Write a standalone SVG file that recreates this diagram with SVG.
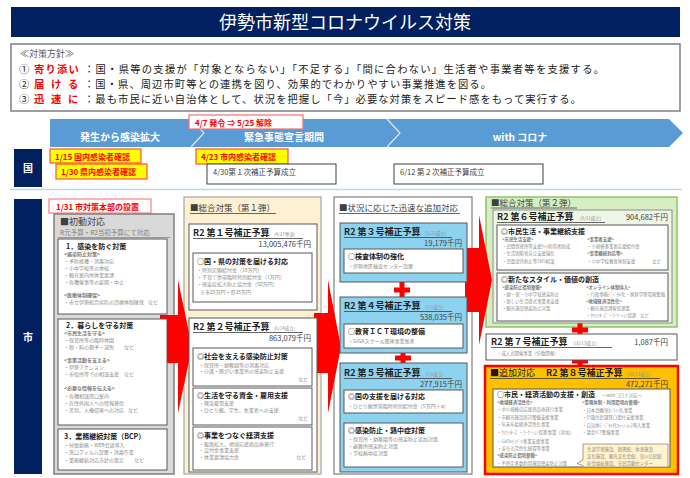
<svg xmlns="http://www.w3.org/2000/svg" width="690" height="478" viewBox="0 0 690 478">
<defs>
<style>
text{font-family:"Noto Sans CJK JP","Noto Sans",sans-serif;}
.w{fill:#fff}
.g{fill:#8c8c8c;font-size:5px}
.g4{fill:#8c8c8c;font-size:4.4px}
.gb{fill:#7a7a7a;font-size:5px;font-weight:bold}
.gb4{fill:#7a7a7a;font-size:4.4px;font-weight:bold}
.h{fill:#1f1f1f;font-size:9px;font-weight:bold}
.dt{fill:#8c8c8c;font-size:4.5px}
.amt{fill:#404040;font-size:7.5px;text-anchor:end}
.ib{fill:#fff;stroke:#595959;stroke-width:1}
.st{fill:#1a1a1a;font-size:7px;font-weight:bold}
.ct{fill:#404040;font-size:8.5px}
.ul{stroke:#404040;stroke-width:0.8}
.rd{fill:#ff0000}
.yb{fill:#ffff00;stroke:#ff4d4d;stroke-width:1.2}
.yt{fill:#ff0000;font-size:8px;font-weight:bold}
.sb{fill:#8dd3f0;stroke:#595959;stroke-width:1}
.wb{fill:#fff;stroke:#404040;stroke-width:1}
.pt{fill:#1a1a1a;font-size:10.3px}
.pr{fill:#ff0000;font-size:10.3px;font-weight:bold}
.nv{fill:#002060}
.tl{font-size:10px;font-weight:bold;fill:#fff;text-anchor:middle}
</style>
<g id="plus"><rect x="-8" y="-2.5" width="16" height="5" fill="#ff0000"/><rect x="-2.5" y="-8" width="5" height="16" fill="#ff0000"/></g>
</defs>
<rect width="690" height="478" fill="#fff"/>

<g id="title"><rect x="11" y="7" width="669" height="30" class="nv"/><text x="345" y="29" text-anchor="middle" font-size="18" class="w">伊勢市新型コロナウイルス対策</text></g>

<g id="policy">
<rect x="11" y="44" width="669" height="67" fill="#fff" stroke="#7f7f7f" stroke-width="1.5"/>
<text x="20" y="57" font-size="9" fill="#595959">≪対策方針≫</text>
<text x="19" y="72.5" class="pt">①</text><text x="34 45.5 57 68.5" y="72.5" class="pr">寄り添い</text><text x="84" y="72.5" class="pt" textLength="520" lengthAdjust="spacing">：国・県等の支援が「対象とならない」「不足する」「間に合わない」生活者や事業者等を支援する。</text>
<text x="19" y="87.5" class="pt">②</text><text x="34 51 68" y="87.5" class="pr">届ける</text><text x="84" y="87.5" class="pt" textLength="407" lengthAdjust="spacing">：国・県、周辺市町等との連携を図り、効果的でわかりやすい事業推進を図る。</text>
<text x="19" y="102.5" class="pt">③</text><text x="34 51 68" y="102.5" class="pr">迅速に</text><text x="84" y="102.5" class="pt" textLength="497" lengthAdjust="spacing">：最も市民に近い自治体として、状況を把握し「今」必要な対策をスピード感をもって実行する。</text>
</g>

<g id="timeline">
<polygon points="50,119 669,119 683,133 669,147 50,147" fill="#5b9bd5"/>
<polyline points="191,119 204,133 191,147" fill="none" stroke="#dbe8f5" stroke-width="1.2"/>
<polyline points="387,119 400,133 387,147" fill="none" stroke="#dbe8f5" stroke-width="1.2"/>
<text x="120" y="141" class="tl">発生から感染拡大</text>
<text x="284" y="141" class="tl">緊急事態宣言期間</text>
<text x="520" y="141" class="tl">with コロナ</text>
</g>
<g id="emergency"><rect x="189" y="115" width="114" height="14" fill="#fff" stroke="#ff6b6b" stroke-width="1.2"/><text x="195" y="125.5" class="yt" font-size="8.5">4/7 発令 ⇒ 5/25 解除</text></g>

<g id="kuni"><rect x="14" y="149" width="28" height="38" class="nv"/><text x="28" y="172" text-anchor="middle" font-size="10" font-weight="bold" class="w">国</text></g>
<g id="e0115"><rect x="50" y="149" width="91" height="14" class="yb"/><text x="55" y="159.5" class="yt">1/15 国内感染者確認</text></g>
<g id="e0130"><rect x="56" y="164" width="91" height="15" class="yb"/><text x="61" y="175" class="yt">1/30 県内感染者確認</text></g>
<g id="e0423"><rect x="196" y="149" width="92" height="15" class="yb"/><text x="201" y="160" class="yt">4/23 市内感染者確認</text></g>
<g id="e0430"><rect x="207" y="164" width="129" height="20" class="wb"/><text x="213" y="175" font-size="7.5" fill="#404040">4/30第１次補正予算成立</text></g>
<g id="e0612"><rect x="394" y="164" width="149" height="20" class="wb"/><text x="400" y="175" font-size="7.5" fill="#404040">6/12 第２次補正予算成立</text></g>
<line x1="10" y1="189.5" x2="682" y2="189.5" stroke="#bdd7ee" stroke-width="1.5"/>

<g id="shi"><rect x="14" y="199" width="28" height="275" class="nv"/><text x="28" y="341" text-anchor="middle" font-size="10" font-weight="bold" class="w">市</text></g>
<g id="e0131"><rect x="49" y="199" width="102" height="14" fill="#fff" stroke="#ff7c80" stroke-width="1.2"/><text x="56" y="209.5" class="yt" font-size="8.5">1/31 市対策本部の設置</text></g>

<!-- column containers -->
<g id="col1">
<rect x="54" y="214" width="120" height="260" fill="#d9d9d9" stroke="#7f7f7f" stroke-width="1.5"/>
<text x="60" y="225" font-size="9" fill="#404040">■初動対応</text>
<text x="60" y="235" font-size="6.5" fill="#7f7f7f">R元予算・R2当初予算にて対応</text>
<line x1="58" y1="237.5" x2="170" y2="237.5" stroke="#8c8c8c" stroke-width="0.8"/>
</g>
<g id="col2">
<rect x="184" y="197" width="137" height="277" fill="#fdf0d3" stroke="#a6a6a6" stroke-width="1.2"/>
<text x="190" y="211" class="ct">■総合対策（第１弾）</text>
<line x1="190" y1="213.5" x2="276" y2="213.5" class="ul"/>
</g>
<g id="col3">
<rect x="334" y="197" width="138" height="277" fill="#fff" stroke="#7f7f7f" stroke-width="1.2"/>
<text x="339" y="211" class="ct">■状況に応じた迅速な追加対応</text>
<line x1="339" y1="213.5" x2="460" y2="213.5" class="ul"/>
</g>
<g id="col4">
<rect x="486" y="197" width="191" height="130" fill="#d6eec4" stroke="#8fc46a" stroke-width="1.5"/>
<text x="491" y="206" class="ct">■総合対策（第２弾）</text>
<line x1="491" y1="208" x2="577" y2="208" class="ul"/>
</g>

<!-- connectors -->
<g id="connectors">
<polygon class="rd" points="160,315 178,315 178,280 192,347 178,413 178,363 160,363"/>
<polygon class="rd" points="314,313 328,313 328,280 341,347 328,413 328,373 314,373"/>
<polygon class="rd" points="465,248 479,248 479,215 492,280 479,345 479,312 465,312"/>
<use href="#plus" x="402" y="290"/>
<use href="#plus" x="403" y="358"/>
<use href="#plus" x="580" y="330"/>
<use href="#plus" x="580" y="361"/>
</g>

<!-- column 1 boxes -->
<g id="c1-b1">
<rect x="58" y="239" width="109" height="75" class="ib"/>
<text x="66" y="249" class="st" font-size="7.5">1．感染を防ぐ対策</text>
<text x="64" y="256" class="gb">&lt;感染防止対策&gt;</text>
<text x="64" y="263" class="g">・予防接種・消毒対応</text>
<text x="64" y="270" class="g">・小中学校等の休校</text>
<text x="64" y="277" class="g">・観光案内所休業要請</text>
<text x="64" y="284" class="g">・各種催事等の延期・中止</text>
<text x="64" y="297" class="gb">&lt;医療体制確保&gt;</text>
<text x="64" y="304" class="g">・市立伊勢総合病院の診療体制確保</text>
<text x="148" y="304" class="g">など</text>
</g>
<g id="c1-b2">
<rect x="58" y="319" width="109" height="106" class="ib"/>
<text x="66" y="328" class="st" font-size="7.5">2．暮らしを守る対策</text>
<text x="64" y="335" class="gb">&lt;市民生活を守る&gt;</text>
<text x="64" y="342" class="g">・保育所等の臨時休園</text>
<text x="64" y="349" class="g">・税・料の猶予・減免</text><text x="124" y="349" class="g">など</text>
<text x="64" y="362" class="gb">&lt;事業活動を支える&gt;</text>
<text x="64" y="369" class="g">・伊勢アクション</text>
<text x="64" y="376" class="g">・市役所等での相談支援</text><text x="124" y="376" class="g">など</text>
<text x="64" y="390" class="gb">&lt;必要な情報を伝える&gt;</text>
<text x="64" y="398" class="g">・各種相談窓口案内</text>
<text x="64" y="405" class="g">・在住外国人への情報発信</text>
<text x="64" y="412" class="g">・差別、人権侵害への対応</text><text x="128" y="412" class="g">など</text>
</g>
<g id="c1-b3">
<rect x="58" y="429" width="109" height="41" class="ib"/>
<text x="64" y="439" class="st" font-size="7.5">3．業務継続対策（BCP）</text>
<text x="64" y="447" class="g">・分散勤務・WEB会議導入</text>
<text x="64" y="454" class="g">・窓口フィルム設置・消毒作業</text>
<text x="64" y="462" class="g">・業務継続対応方針の策定</text><text x="134" y="462" class="g">など</text>
</g>

<!-- column 2 -->
<g id="r2-1">
<rect x="189" y="224" width="128" height="86" class="ib"/>
<text x="193" y="236" class="h">R2 第１号補正予算</text><text x="274" y="236" class="dt">(4/27専決)</text>
<line x1="193" y1="238.5" x2="303" y2="238.5" class="ul"/>
<text x="311" y="247" class="amt">13,005,476千円</text>
<rect x="193" y="253" width="119" height="49" class="ib"/>
<text x="197" y="264" class="st">○国・県の対策を届ける対応</text>
<text x="197" y="272" class="g">・特別定額給付金（10万円）</text>
<text x="197" y="279" class="g">・子育て世帯臨時特別給付金（1万円）</text>
<text x="197" y="286" class="g">・感染症拡大防止協力金（50万円）</text>
<text x="200" y="294" class="g">※市25万円＋県25万円</text>
</g>
<g id="r2-2">
<rect x="189" y="318" width="128" height="154" class="ib"/>
<text x="193" y="330" class="h">R2 第２号補正予算</text><text x="274" y="330" class="dt">(6/14成立)</text>
<line x1="193" y1="332.5" x2="303" y2="332.5" class="ul"/>
<text x="311" y="341" class="amt">863,079千円</text>
<rect x="193" y="348" width="119" height="38" class="ib"/>
<text x="197" y="359" class="st">◎社会を支える感染防止対策</text>
<text x="199" y="367" class="g">・保育所・幼稚園等の消毒対応</text>
<text x="199" y="373" class="g">・介護・障がい事業所の感染防止支援</text>
<text x="298" y="381" class="g">など</text>
<rect x="193" y="388" width="119" height="37" class="ib"/>
<text x="197" y="398" class="st">◎生活を守る資金・雇用支援</text>
<text x="199" y="405" class="g">・緊急雇用支援</text>
<text x="199" y="412" class="g">・ひとり親、学生、失業者への支援</text>
<text x="298" y="420" class="g">など</text>
<rect x="193" y="427" width="119" height="43" class="ib"/>
<text x="197" y="438" class="st">◎事業をつなぐ経済支援</text>
<text x="199" y="446" class="g">・販路拡大、地域応援商品券発行</text>
<text x="199" y="452" class="g">・交付金事業支援</text>
<text x="199" y="459" class="g">・休業要請協力金</text><text x="296" y="459" class="g">など</text>
</g>

<!-- column 3 -->
<g id="r2-3">
<rect x="340" y="223" width="127" height="59" class="sb"/>
<text x="344" y="235" class="h">R2 第３号補正予算</text><text x="425" y="235" class="dt">(5/22成立)</text>
<line x1="344" y1="237.5" x2="452" y2="237.5" class="ul"/>
<text x="462" y="246" class="amt">19,179千円</text>
<rect x="344" y="249" width="119" height="24" class="ib"/>
<text x="348" y="259" class="st">○検査体制の強化</text>
<text x="348" y="268" class="g">・伊勢地区検査センター設置</text>
</g>
<g id="r2-4">
<rect x="340" y="297" width="127" height="56" class="sb"/>
<text x="344" y="309" class="h">R2 第４号補正予算</text><text x="425" y="309" class="dt">(7/1成立)</text>
<line x1="344" y1="311.5" x2="452" y2="311.5" class="ul"/>
<text x="462" y="320" class="amt">538,035千円</text>
<rect x="344" y="324" width="119" height="24" class="ib"/>
<text x="348" y="334" class="st">○教育ＩＣＴ環境の整備</text>
<text x="348" y="343" class="g">・GIGAスクール関連事業推進</text>
</g>
<g id="r2-5">
<rect x="340" y="363" width="127" height="109" class="sb"/>
<text x="344" y="376" class="h">R2 第５号補正予算</text><text x="425" y="376" class="dt">(7/1成立)</text>
<line x1="344" y1="378.5" x2="452" y2="378.5" class="ul"/>
<text x="462" y="387" class="amt">277,915千円</text>
<rect x="344" y="390" width="119" height="23" class="ib"/>
<text x="348" y="399" class="st">◎国の支援を届ける対応</text>
<text x="348" y="407.5" class="g">・ひとり親世帯臨時特別給付金（5万円＋α）</text>
<rect x="344" y="423" width="119" height="44" class="ib"/>
<text x="348" y="433" class="st">◎感染防止・熱中症対策</text>
<text x="348" y="441" class="g">・保育所・幼稚園等の感染防止追加対策</text>
<text x="348" y="448" class="g">・避難所感染防止対策</text>
<text x="348" y="455" class="g">・学校熱中症対策</text>
</g>

<!-- column 4 -->
<g id="r2-6">
<rect x="493" y="210" width="179" height="113" fill="#eef7e6" stroke="#8c8c8c" stroke-width="1"/>
<text x="497" y="220" class="h">R2 第６号補正予算</text><text x="580" y="220" class="dt">(9/11成立)</text>
<line x1="497" y1="222.5" x2="605" y2="222.5" class="ul"/>
<text x="668" y="220" class="amt">904,682千円</text>
<rect x="497" y="225" width="171" height="45" class="ib"/>
<text x="501" y="233.5" class="st">◎市民生活・事業継続支援</text>
<text x="502" y="240.5" class="gb4">&lt;市民生活支援&gt;</text>
<text x="502" y="247.5" class="g4">・民間保育所等支援ｻｲﾄ利用者助成</text>
<text x="502" y="255" class="g4">・生活困窮者自立支援強化</text>
<text x="502" y="262.5" class="g4">・児童虐待防止等SNS相談</text>
<text x="587" y="240.5" class="gb4">&lt;事業者支援&gt;</text>
<text x="587" y="247.5" class="g4">・小規模事業者応援給付金</text>
<text x="587" y="255" class="gb4">&lt;事業継続対応等&gt;</text>
<text x="587" y="262.5" class="g4">・小中学校教育体制支援</text><text x="652" y="262.5" class="g4">など</text>
<rect x="497" y="273" width="171" height="48" class="ib"/>
<text x="501" y="281.5" class="st">◎新たなスタイル・価値の創造</text>
<text x="502" y="288.5" class="gb4">&lt;感染防止環境整備&gt;</text>
<text x="502" y="295.5" class="g4">・幼・保・小中学校感染防止</text>
<text x="502" y="302.5" class="g4">・新しい生活様式事業者支援</text>
<text x="502" y="309.5" class="g4">・観光施設感染防止対策</text>
<text x="586" y="288.5" class="gb4">&lt;オンライン体制導入&gt;</text>
<text x="586" y="295.5" class="g4">・行政事務ﾃﾞｼﾞﾀﾙ化・家庭学習環境整備</text>
<text x="586" y="302.5" class="gb4">&lt;地域経済活性化&gt;</text>
<text x="586" y="309.5" class="g4">・観光施設誘客促進策</text>
<text x="586" y="317" class="g4">・ｸﾘｴｲﾀｰｽﾞ・ﾜｰｹｰｼｮﾝ促進</text><text x="640" y="317" class="g4">など</text>
</g>
<g id="r2-7">
<rect x="486" y="334" width="191" height="26" class="ib"/>
<text x="491" y="345" class="h">R2 第７号補正予算</text><text x="573" y="345" class="dt">(10/13成立)</text>
<line x1="491" y1="347.5" x2="612" y2="347.5" class="ul"/>
<text x="668" y="345" class="amt">1,087千円</text>
<text x="497" y="355" class="g4">・成人式開催事業（分散開催）</text>
</g>
<g id="r2-8">
<rect x="485" y="366" width="193" height="108" fill="#ffc000" stroke="#ff0000" stroke-width="2.5"/>
<text x="490" y="376" font-size="9" fill="#1a1a1a">■追加対応</text>
<text x="546" y="376" class="h">R2 第８号補正予算</text><text x="627" y="376" class="dt" fill="#595959">(10/13成立)</text>
<line x1="490" y1="378.5" x2="660" y2="378.5" class="ul"/>
<text x="668" y="387" class="amt">472,271千円</text>
<rect x="493" y="389" width="177" height="78" class="ib"/>
<text x="497" y="397" class="st">○市民・経済活動の支援・創造</text>
<text x="602" y="396.5" class="g4">〜withコロナ対応〜</text>
<text x="497" y="404" class="gb4">&lt;地域経済活性化&gt;</text>
<text x="497" y="411" class="g4">・中小規模店応援商品券発行事業</text>
<text x="497" y="418.5" class="g4">・市観光施設周辺整備支援事業</text>
<text x="497" y="426" class="g4">・年末年始経済活性化事業</text>
<text x="497" y="434" class="g4">・ｸﾘｴｲﾀｰｽﾞ・ﾜｰｹｰｼｮﾝ促進事業（追加）</text>
<text x="497" y="442.5" class="g4">・GoToﾄﾗﾍﾞﾙ事業支援事業</text>
<text x="497" y="449.5" class="g4">・まちの活性化経費等事業</text>
<text x="497" y="457" class="gb4">&lt;感染防止環境整備&gt;</text>
<text x="497" y="465" class="g4">・不特定多数利用施設感染防止対策</text>
<text x="582" y="404" class="gb4">&lt;業務体制・利用環境の整備&gt;</text>
<text x="582" y="411.5" class="g4">・日本語教室ｵﾝﾗｲﾝ化事業</text>
<text x="582" y="419" class="g4">・戸籍住民課窓口受付支援事業</text>
<text x="582" y="426.5" class="g4">・自治体ﾃﾞｼﾞﾀﾙ化ｷｬｯｼｭﾚｽ導入事業</text>
<text x="582" y="434" class="g4">・議会ICT整備事業</text>
</g>
<g id="callout">
<path d="M583,444 H668 V467 H583 V465.5 L577,463.5 L583,460 Z" fill="#fff2cc" stroke="#8c8c8c" stroke-width="0.8"/>
<text x="587" y="451" class="g4">生涯学習施設、図書館、体育施設</text>
<text x="587" y="458" class="g4">文化施設、観光文化会館、宮川公民館</text>
<text x="587" y="465" class="g4">社会福祉施設、市民活動センター</text>
</g>
</svg>
